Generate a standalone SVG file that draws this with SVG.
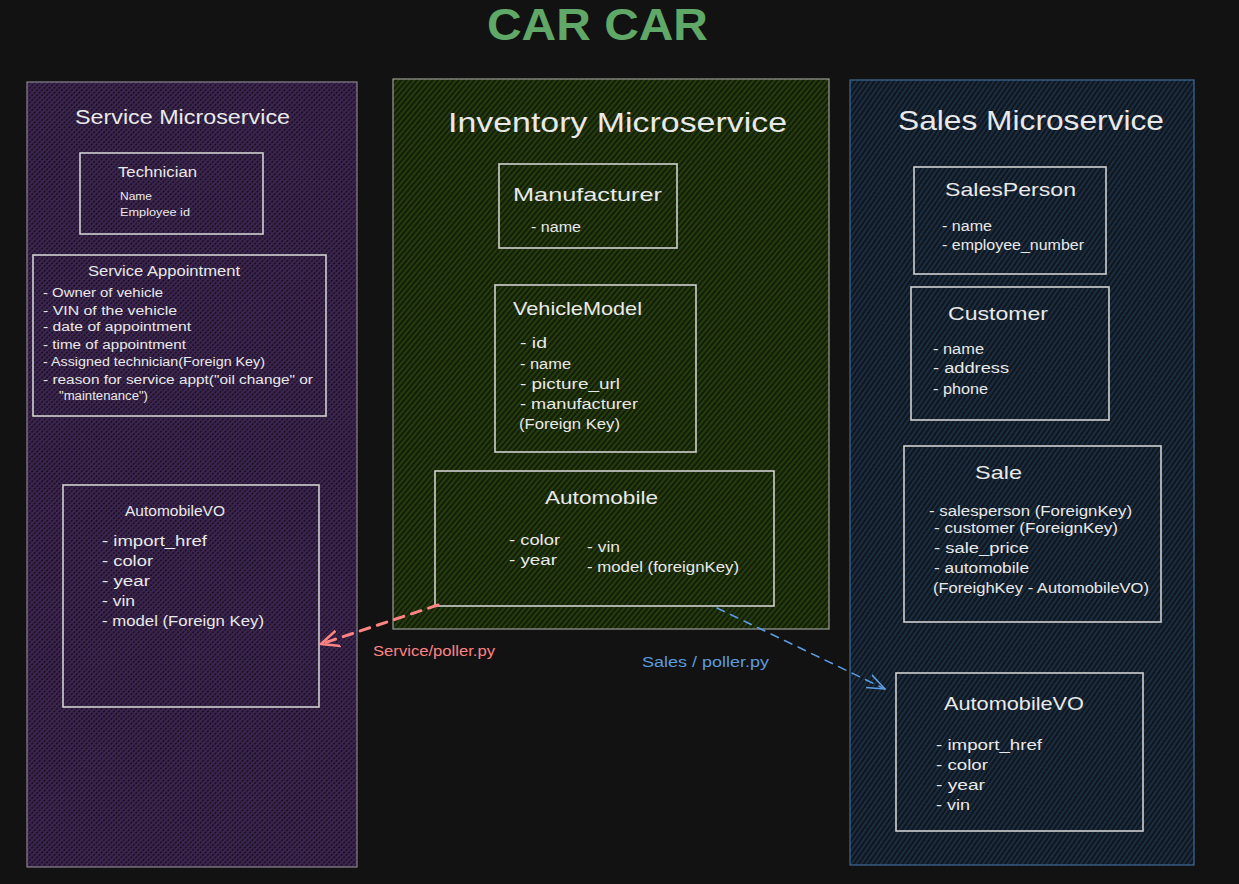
<svg xmlns="http://www.w3.org/2000/svg" width="1239" height="884" viewBox="0 0 1239 884">
<defs>
<pattern id="hatchPurple" patternUnits="userSpaceOnUse" width="3.5" height="3.5" patternTransform="rotate(45)">
<rect width="3.5" height="3.5" fill="#1c1124"/>
<rect width="1.5" height="3.5" fill="#432a58"/>
<rect width="3.5" height="1.3" fill="#3a244e"/>
</pattern>
<pattern id="hatchGreen" patternUnits="userSpaceOnUse" width="4" height="4" patternTransform="rotate(-50)">
<rect width="4" height="4" fill="#131d08"/>
<rect width="4" height="1.8" fill="#26400f"/>
</pattern>
<pattern id="hatchBlue" patternUnits="userSpaceOnUse" width="4" height="4" patternTransform="rotate(-55)">
<rect width="4" height="4" fill="#10161e"/>
<rect width="4" height="1.6" fill="#1d3248"/>
</pattern>
<marker id="arrowRed" viewBox="0 0 20 20" refX="18" refY="10" markerWidth="20" markerHeight="20" markerUnits="userSpaceOnUse" orient="auto">
<path d="M0,2 L18,10 L0,18" fill="none" stroke="#ff8383" stroke-width="2.5" stroke-linecap="round" stroke-linejoin="round"/>
</marker>
<marker id="arrowBlue" viewBox="0 0 20 20" refX="18" refY="10" markerWidth="20" markerHeight="20" markerUnits="userSpaceOnUse" orient="auto">
<path d="M0,3 L18,10 L0,17" fill="none" stroke="#5b9bdf" stroke-width="1.6" stroke-linecap="round" stroke-linejoin="round"/>
</marker>
</defs>
<style>
text { font-family: "Liberation Sans", "Open Sans", sans-serif; fill: #e9e9e9; dominant-baseline: central; }
.box { fill: none; stroke: #d0d0d0; stroke-width: 1.6; }
.cont { stroke-width: 1.2; }
.h1 { font-size: 28px; }
.h2 { font-size: 20px; }
.bt { font-size: 19px; }
.st { font-size: 14px; }
.it { font-size: 14px; }
.sm { font-size: 12px; }
.xs { font-size: 11px; }
</style>
<rect width="1239" height="884" fill="#121212"/>

<text id="title" x="487" y="24" font-size="44" font-weight="bold" style="fill:#5fa868" textLength="221" lengthAdjust="spacingAndGlyphs">CAR CAR</text>

<g id="service-microservice">
<rect class="cont" x="27" y="82" width="330" height="785" fill="url(#hatchPurple)" stroke="#8a8290"/>
<text class="h2" x="75" y="117" textLength="215" lengthAdjust="spacingAndGlyphs">Service Microservice</text>
</g>
<g id="technician">
<rect class="box" x="80" y="153" width="183" height="81"/>
<text class="st" x="118" y="172" textLength="79" lengthAdjust="spacingAndGlyphs">Technician</text>
<text class="xs" x="120" y="196" textLength="32" lengthAdjust="spacingAndGlyphs">Name</text>
<text class="xs" x="120" y="212" textLength="70" lengthAdjust="spacingAndGlyphs">Employee id</text>
</g>
<g id="service-appointment">
<rect class="box" x="33" y="255" width="293" height="161"/>
<text class="st" x="88" y="271" textLength="152" lengthAdjust="spacingAndGlyphs">Service Appointment</text>
<text class="sm" x="43" y="293" textLength="120" lengthAdjust="spacingAndGlyphs">- Owner of vehicle</text>
<text class="sm" x="43" y="311" textLength="134" lengthAdjust="spacingAndGlyphs">- VIN of the vehicle</text>
<text class="sm" x="43" y="327" textLength="148" lengthAdjust="spacingAndGlyphs">- date of appointment</text>
<text class="sm" x="43" y="345" textLength="143" lengthAdjust="spacingAndGlyphs">- time of appointment</text>
<text class="sm" x="43" y="362" textLength="222" lengthAdjust="spacingAndGlyphs">- Assigned technician(Foreign Key)</text>
<text class="sm" x="43" y="380" textLength="270" lengthAdjust="spacingAndGlyphs">- reason for service appt("oil change" or</text>
<text class="sm" x="59" y="396" textLength="89" lengthAdjust="spacingAndGlyphs">"maintenance")</text>
</g>
<g id="service-automobilevo">
<rect class="box" x="63" y="485" width="256" height="222"/>
<text class="st" x="125" y="511" textLength="100" lengthAdjust="spacingAndGlyphs">AutomobileVO</text>
<text class="it" x="102" y="541" textLength="105" lengthAdjust="spacingAndGlyphs">- import_href</text>
<text class="it" x="102" y="561" textLength="51" lengthAdjust="spacingAndGlyphs">- color</text>
<text class="it" x="102" y="581" textLength="48" lengthAdjust="spacingAndGlyphs">- year</text>
<text class="it" x="102" y="601" textLength="33" lengthAdjust="spacingAndGlyphs">- vin</text>
<text class="it" x="102" y="621" textLength="162" lengthAdjust="spacingAndGlyphs">- model (Foreign Key)</text>
</g>

<g id="inventory-microservice">
<rect class="cont" x="393" y="79" width="436" height="550" fill="url(#hatchGreen)" stroke="#9a9c96"/>
<text class="h1" x="448" y="122" textLength="339" lengthAdjust="spacingAndGlyphs">Inventory Microservice</text>
</g>
<g id="manufacturer">
<rect class="box" x="499" y="164" width="178" height="84"/>
<text class="bt" x="513" y="194" textLength="149" lengthAdjust="spacingAndGlyphs">Manufacturer</text>
<text class="it" x="531" y="227" textLength="50" lengthAdjust="spacingAndGlyphs">- name</text>
</g>
<g id="vehiclemodel">
<rect class="box" x="495" y="285" width="201" height="167"/>
<text class="bt" x="513" y="308" textLength="129" lengthAdjust="spacingAndGlyphs">VehicleModel</text>
<text class="it" x="520" y="343" textLength="27" lengthAdjust="spacingAndGlyphs">- id</text>
<text class="it" x="520" y="364" textLength="51" lengthAdjust="spacingAndGlyphs">- name</text>
<text class="it" x="520" y="384" textLength="100" lengthAdjust="spacingAndGlyphs">- picture_url</text>
<text class="it" x="520" y="404" textLength="118" lengthAdjust="spacingAndGlyphs">- manufacturer</text>
<text class="it" x="519" y="424" textLength="101" lengthAdjust="spacingAndGlyphs">(Foreign Key)</text>
</g>
<g id="automobile">
<rect class="box" x="435" y="471" width="339" height="135"/>
<text class="bt" x="545" y="497" textLength="113" lengthAdjust="spacingAndGlyphs">Automobile</text>
<text class="it" x="509" y="540" textLength="51" lengthAdjust="spacingAndGlyphs">- color</text>
<text class="it" x="509" y="560" textLength="48" lengthAdjust="spacingAndGlyphs">- year</text>
<text class="it" x="587" y="547" textLength="33" lengthAdjust="spacingAndGlyphs">- vin</text>
<text class="it" x="587" y="567" textLength="152" lengthAdjust="spacingAndGlyphs">- model (foreignKey)</text>
</g>

<g id="sales-microservice">
<rect class="cont" x="850" y="80" width="344" height="785" fill="url(#hatchBlue)" stroke="#3f6a96"/>
<text class="h1" x="898" y="120" textLength="266" lengthAdjust="spacingAndGlyphs">Sales Microservice</text>
</g>
<g id="salesperson">
<rect class="box" x="914" y="167" width="192" height="107"/>
<text class="bt" x="945" y="189" textLength="131" lengthAdjust="spacingAndGlyphs">SalesPerson</text>
<text class="it" x="942" y="226" textLength="50" lengthAdjust="spacingAndGlyphs">- name</text>
<text class="it" x="942" y="245" textLength="142" lengthAdjust="spacingAndGlyphs">- employee_number</text>
</g>
<g id="customer">
<rect class="box" x="911" y="287" width="198" height="133"/>
<text class="bt" x="948" y="313" textLength="100" lengthAdjust="spacingAndGlyphs">Customer</text>
<text class="it" x="933" y="349" textLength="51" lengthAdjust="spacingAndGlyphs">- name</text>
<text class="it" x="933" y="368" textLength="76" lengthAdjust="spacingAndGlyphs">- address</text>
<text class="it" x="933" y="389" textLength="55" lengthAdjust="spacingAndGlyphs">- phone</text>
</g>
<g id="sale">
<rect class="box" x="904" y="446" width="257" height="176"/>
<text class="bt" x="975" y="472" textLength="47" lengthAdjust="spacingAndGlyphs">Sale</text>
<text class="it" x="929" y="511" textLength="203" lengthAdjust="spacingAndGlyphs">- salesperson (ForeignKey)</text>
<text class="it" x="934" y="528" textLength="184" lengthAdjust="spacingAndGlyphs">- customer (ForeignKey)</text>
<text class="it" x="934" y="548" textLength="95" lengthAdjust="spacingAndGlyphs">- sale_price</text>
<text class="it" x="934" y="568" textLength="95" lengthAdjust="spacingAndGlyphs">- automobile</text>
<text class="it" x="933" y="588" textLength="216" lengthAdjust="spacingAndGlyphs">(ForeighKey - AutomobileVO)</text>
</g>
<g id="sales-automobilevo">
<rect class="box" x="896" y="673" width="247" height="158"/>
<text class="bt" x="944" y="703" textLength="140" lengthAdjust="spacingAndGlyphs">AutomobileVO</text>
<text class="it" x="936" y="745" textLength="106" lengthAdjust="spacingAndGlyphs">- import_href</text>
<text class="it" x="936" y="765" textLength="52" lengthAdjust="spacingAndGlyphs">- color</text>
<text class="it" x="936" y="785" textLength="49" lengthAdjust="spacingAndGlyphs">- year</text>
<text class="it" x="936" y="805" textLength="34" lengthAdjust="spacingAndGlyphs">- vin</text>
</g>

<g id="connectors">
<path d="M438,605 L321,644" fill="none" stroke="#ff8383" stroke-width="3" stroke-dasharray="10,8" stroke-linecap="round" marker-end="url(#arrowRed)"/>
<text x="373" y="651" font-size="14" style="fill:#ff8383" textLength="122" lengthAdjust="spacingAndGlyphs">Service/poller.py</text>
<path d="M717,608 L885,689" fill="none" stroke="#5b9bdf" stroke-width="1.6" stroke-dasharray="8,7" stroke-linecap="round" marker-end="url(#arrowBlue)"/>
<text x="642" y="662" font-size="14" style="fill:#5b9bdf" textLength="127" lengthAdjust="spacingAndGlyphs">Sales / poller.py</text>
</g>
</svg>
